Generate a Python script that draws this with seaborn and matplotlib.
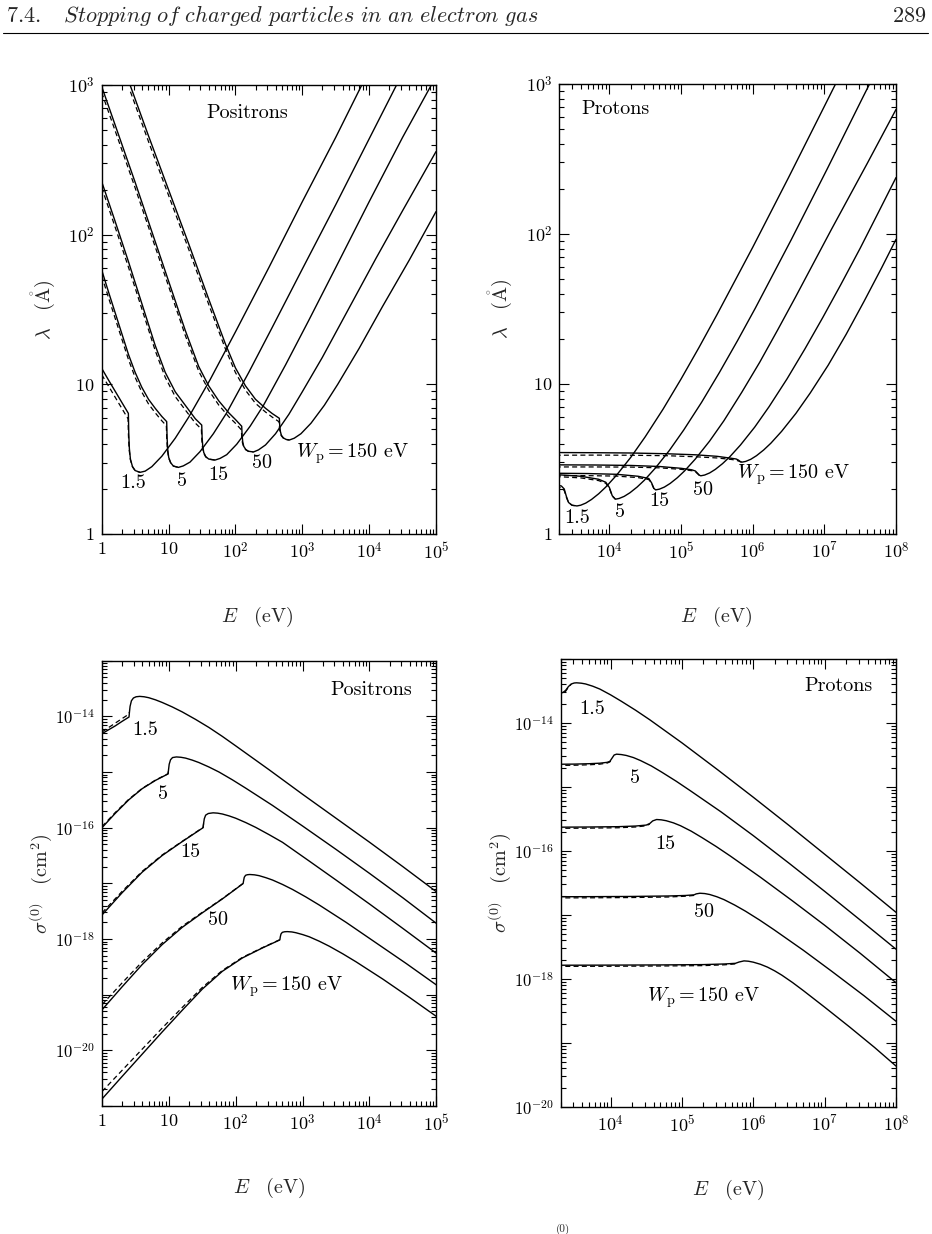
import numpy as np
import matplotlib
matplotlib.use("Agg")
import matplotlib.pyplot as plt
import seaborn as sns
from matplotlib.ticker import FixedLocator, FixedFormatter, LogLocator, NullFormatter
from matplotlib.lines import Line2D

# ---------------- data (stored as log10 values) ----------------
# Panel A: positrons, inelastic mean free path; x = log10(E/eV), y = log10(lambda/Angstrom)
posl_w1p5_x = [0, 0.1, 0.2, 0.3, 0.399, 0.405, 0.414, 0.43, 0.46, 0.5, 0.573, 0.65, 0.75, 0.9, 1.1, 1.3, 1.62, 2.0, 2.5, 3.0, 3.5, 3.89, 3.95]
posl_w1p5_y = [1.107, 1.03, 0.955, 0.88, 0.806, 0.668, 0.57, 0.499, 0.451, 0.424, 0.412, 0.42, 0.45, 0.52, 0.64, 0.78, 1.03, 1.35, 1.78, 2.22, 2.65, 3.0, 3.05]
posl_w1p5_dx = [0, 0.1, 0.2, 0.3, 0.394, 0.4, 0.41, 0.43, 0.46, 0.5, 0.573]
posl_w1p5_dy = [1.065, 0.99, 0.915, 0.84, 0.77, 0.66, 0.565, 0.495, 0.449, 0.423, 0.412]

posl_w5_x = [0, 0.1, 0.2, 0.3, 0.4, 0.5, 0.6, 0.7, 0.8, 0.9, 0.972, 0.978, 0.987, 1.002, 1.032, 1.072, 1.147,
             1.22, 1.32, 1.47, 1.67, 1.87, 2.2, 2.55, 3.0, 3.5, 4.0, 4.41, 4.47]
posl_w5_y = [1.764, 1.62, 1.48, 1.34, 1.2, 1.08, 0.98, 0.9, 0.84, 0.785, 0.751, 0.644, 0.567, 0.512, 0.476, 0.454, 0.445,
             0.455, 0.48, 0.55, 0.67, 0.81, 1.08, 1.38, 1.77, 2.2, 2.64, 3.0, 3.05]
posl_w5_dx = [0, 0.1, 0.2, 0.3, 0.4, 0.5, 0.6, 0.7, 0.8, 0.9, 0.967, 0.973, 0.983, 1.0, 1.032, 1.072, 1.147]
posl_w5_dy = [1.725, 1.582, 1.443, 1.304, 1.166, 1.047, 0.948, 0.869, 0.81, 0.756, 0.724, 0.636, 0.562, 0.509, 0.475, 0.454, 0.445]

posl_w15_x = [0, 0.2, 0.4, 0.6, 0.8, 0.95, 1.1, 1.25, 1.4, 1.496, 1.502, 1.511, 1.526, 1.556, 1.6, 1.695,
              1.77, 1.87, 2.02, 2.22, 2.42, 2.75, 3.1, 3.5, 4.0, 4.5, 4.93, 5.0]
posl_w15_y = [2.354, 2.09, 1.82, 1.54, 1.26, 1.08, 0.95, 0.86, 0.77, 0.728, 0.646, 0.588, 0.545, 0.517, 0.501, 0.494,
              0.505, 0.53, 0.6, 0.72, 0.86, 1.13, 1.43, 1.78, 2.22, 2.65, 3.0, 3.06]
posl_w15_dx = [0, 0.2, 0.4, 0.6, 0.8, 0.95, 1.1, 1.25, 1.4, 1.491, 1.497, 1.507, 1.526, 1.556, 1.6, 1.695]
posl_w15_dy = [2.315, 2.052, 1.783, 1.505, 1.226, 1.047, 0.918, 0.829, 0.741, 0.701, 0.63, 0.578, 0.54, 0.515, 0.5, 0.494]

posl_w50_x = [0, 0.25, 0.5, 0.75, 1.0, 1.25, 1.45, 1.6, 1.75, 1.9, 2.0, 2.094, 2.1, 2.109, 2.124, 2.154, 2.194, 2.27,
              2.345, 2.45, 2.6, 2.8, 3.0, 3.3, 3.7, 4.1, 4.5, 5.0]
posl_w50_y = [2.99, 2.67, 2.35, 2.02, 1.69, 1.36, 1.12, 0.99, 0.89, 0.81, 0.765, 0.72, 0.66, 0.617, 0.586, 0.565, 0.553, 0.548,
              0.562, 0.595, 0.67, 0.8, 0.95, 1.18, 1.51, 1.84, 2.16, 2.555]
posl_w50_dx = [0, 0.25, 0.5, 0.75, 1.0, 1.25, 1.45, 1.6, 1.75, 1.9, 2.0, 2.089, 2.095, 2.105, 2.124, 2.154, 2.194, 2.27]
posl_w50_dy = [2.95, 2.632, 2.313, 1.985, 1.656, 1.327, 1.089, 0.961, 0.862, 0.784, 0.74, 0.696, 0.646, 0.609, 0.582, 0.563, 0.552, 0.548]

posl_w150_x = [0.4, 0.7, 1.0, 1.3, 1.6, 1.85, 2.0, 2.15, 2.3, 2.45, 2.55, 2.657, 2.663, 2.672, 2.687, 2.717, 2.757, 2.807,
               2.88, 2.98, 3.13, 3.33, 3.53, 3.85, 4.2, 4.6, 5.0]
posl_w150_y = [3.03, 2.66, 2.3, 1.94, 1.57, 1.27, 1.11, 0.99, 0.9, 0.84, 0.805, 0.773, 0.722, 0.686, 0.66, 0.642, 0.632, 0.628,
               0.64, 0.67, 0.74, 0.86, 1.0, 1.24, 1.52, 1.83, 2.154]
posl_w150_dx = [0.43, 0.7, 1.0, 1.3, 1.6, 1.85, 2.0, 2.15, 2.3, 2.45, 2.55, 2.652, 2.658, 2.668, 2.687, 2.717, 2.757, 2.807]
posl_w150_dy = [2.955, 2.622, 2.263, 1.904, 1.535, 1.237, 1.079, 0.961, 0.873, 0.815, 0.781, 0.75, 0.71, 0.678, 0.656, 0.64, 0.631, 0.628]

# Panel B: protons, inelastic mean free path
prol_w1p5_x = [3.25, 3.33, 3.37, 3.4, 3.43, 3.48, 3.547, 3.6, 3.67, 3.75, 3.85, 3.95, 4.1, 4.3, 4.5, 4.75, 5.0, 5.25,
               5.5, 6.0, 6.5, 7.0, 7.15, 7.2]
prol_w1p5_y = [0.328, 0.32, 0.3, 0.25, 0.21, 0.192, 0.187, 0.192, 0.206, 0.23, 0.268, 0.313, 0.392, 0.512, 0.648, 0.833,
               1.033, 1.243, 1.461, 1.911, 2.376, 2.851, 2.994, 3.042]
prol_w1p5_dx = [3.25, 3.33, 3.37, 3.4, 3.43, 3.48, 3.547]
prol_w1p5_dy = [0.316, 0.308, 0.29, 0.245, 0.208, 0.191, 0.187]

prol_w5_x = [3.25, 3.6, 3.85, 3.95, 4.0, 4.04, 4.084, 4.137, 4.207, 4.287, 4.387, 4.487, 4.637, 4.837, 5.037, 5.287,
             5.537, 5.787, 6.037, 6.537, 7.037, 7.537, 7.65]
prol_w5_y = [0.396, 0.385, 0.365, 0.345, 0.31, 0.255, 0.232, 0.237, 0.251, 0.275, 0.313, 0.358, 0.437, 0.557, 0.693, 0.878,
             1.078, 1.288, 1.506, 1.961, 2.431, 2.911, 3.018]
prol_w5_dx = [3.25, 3.6, 3.85, 3.95, 4.0, 4.04, 4.084]
prol_w5_dy = [0.383, 0.374, 0.356, 0.338, 0.305, 0.253, 0.232]

prol_w15_x = [3.25, 3.7, 4.1, 4.4, 4.55, 4.59, 4.62, 4.645, 4.698, 4.768, 4.848, 4.948, 5.048, 5.198, 5.398, 5.598,
              5.848, 6.098, 6.348, 6.598, 7.098, 7.598, 8.0]
prol_w15_y = [0.405, 0.403, 0.398, 0.385, 0.37, 0.34, 0.305, 0.294, 0.299, 0.313, 0.337, 0.375, 0.42, 0.499, 0.619, 0.755,
              0.945, 1.145, 1.36, 1.58, 2.03, 2.47, 2.83]
prol_w15_dx = [3.25, 3.7, 4.1, 4.4, 4.55, 4.59, 4.62, 4.645]
prol_w15_dy = [0.39, 0.389, 0.386, 0.376, 0.363, 0.336, 0.303, 0.294]

prol_w50_x = [3.25, 3.8, 4.3, 4.7, 5.0, 5.15, 5.2, 5.23, 5.255, 5.276, 5.329, 5.399, 5.479, 5.579, 5.679, 5.829, 6.029,
              6.229, 6.479, 6.729, 6.979, 7.229, 7.5, 7.75, 8.0]
prol_w50_y = [0.461, 0.46, 0.457, 0.45, 0.438, 0.428, 0.42, 0.405, 0.392, 0.388, 0.393, 0.407, 0.431, 0.469, 0.514, 0.593,
              0.713, 0.849, 1.034, 1.234, 1.444, 1.662, 1.905, 2.14, 2.376]
prol_w50_dx = [3.25, 3.8, 4.3, 4.7, 5.0, 5.15, 5.2, 5.23, 5.255, 5.276]
prol_w50_dy = [0.447, 0.447, 0.446, 0.441, 0.431, 0.422, 0.415, 0.402, 0.391, 0.388]

prol_w150_x = [3.25, 3.8, 4.3, 4.8, 5.2, 5.5, 5.7, 5.77, 5.8, 5.83, 5.85, 5.903, 5.973, 6.053, 6.153, 6.253, 6.403,
               6.603, 6.803, 7.053, 7.303, 7.553, 7.8, 8.0]
prol_w150_y = [0.543, 0.542, 0.54, 0.535, 0.528, 0.518, 0.505, 0.5, 0.493, 0.482, 0.479, 0.484, 0.498, 0.522, 0.56,
               0.605, 0.684, 0.804, 0.94, 1.125, 1.33, 1.55, 1.775, 1.964]
prol_w150_dx = [3.25, 3.8, 4.3, 4.8, 5.2, 5.5, 5.7, 5.77, 5.8, 5.83, 5.85]
prol_w150_dy = [0.525, 0.526, 0.525, 0.522, 0.515, 0.507, 0.497, 0.492, 0.487, 0.481, 0.479]

# Panel C: positrons, total cross section; y = log10(sigma/cm^2)
poss_w1p5_x = [0, 0.1, 0.2, 0.3, 0.404, 0.41, 0.42, 0.44, 0.47, 0.51, 0.564, 0.63, 0.7, 0.8, 0.9, 1.05, 1.2, 1.4, 1.6,
               1.8, 2.0, 2.5, 3.0, 3.5, 4.0, 4.5, 5.0]
poss_w1p5_y = [-14.311, -14.24, -14.17, -14.09, -14.012, -13.93, -13.82, -13.72, -13.67, -13.648, -13.641, -13.648,
               -13.665, -13.703, -13.75, -13.83, -13.92, -14.055, -14.2, -14.36, -14.53, -14.96, -15.4, -15.83, -16.26,
               -16.7, -17.15]
poss_w1p5_dx = [0, 0.1, 0.2, 0.3, 0.39, 0.41]
poss_w1p5_dy = [-14.28, -14.2, -14.12, -14.04, -13.97, -13.93]

poss_w5_x = [0, 0.2, 0.4, 0.6, 0.8, 0.988, 0.995, 1.005, 1.025, 1.055, 1.113, 1.18, 1.25, 1.35, 1.45, 1.6, 1.75, 1.95,
             2.15, 2.55, 3.0, 3.5, 4.0, 4.5, 5.0]
poss_w5_y = [-16.0, -15.74, -15.5, -15.3, -15.15, -15.034, -14.96, -14.86, -14.78, -14.74, -14.729, -14.735, -14.75,
             -14.786, -14.83, -14.91, -15.0, -15.14, -15.29, -15.6, -15.97, -16.39, -16.82, -17.26, -17.718]
poss_w5_dx = [0, 0.2, 0.4, 0.6, 0.8, 0.988, 0.995]
poss_w5_dy = [-15.98, -15.725, -15.49, -15.295, -15.145, -15.03, -14.96]

poss_w15_x = [0, 0.3, 0.6, 0.9, 1.2, 1.512, 1.52, 1.53, 1.55, 1.59, 1.662, 1.73, 1.8, 1.9, 2.0, 2.15, 2.3, 2.5, 2.7,
              3.1, 3.5, 4.0, 4.5, 5.0]
poss_w15_y = [-17.568, -17.17, -16.8, -16.5, -16.25, -16.0, -15.92, -15.84, -15.775, -15.745, -15.733, -15.739, -15.754,
              -15.788, -15.83, -15.908, -15.995, -16.126, -16.263, -16.6, -16.94, -17.37, -17.81, -18.256]
poss_w15_dx = [0, 0.3, 0.6, 0.9, 1.2, 1.512, 1.52]
poss_w15_dy = [-17.53, -17.145, -16.785, -16.49, -16.245, -15.995, -15.92]

poss_w50_x = [0, 0.3, 0.6, 0.9, 1.2, 1.5, 1.8, 2.111, 2.118, 2.128, 2.148, 2.175, 2.21, 2.28, 2.35, 2.45, 2.55, 2.7,
              2.85, 3.05, 3.25, 3.65, 4.1, 4.55, 5.0]
poss_w50_y = [-19.272, -18.86, -18.46, -18.1, -17.79, -17.53, -17.28, -17.003, -16.95, -16.89, -16.855, -16.845, -16.841,
              -16.847, -16.862, -16.898, -16.94, -17.02, -17.11, -17.245, -17.39, -17.7, -18.07, -18.44, -18.824]
poss_w50_dx = [0, 0.3, 0.6, 0.9, 1.2, 1.5, 1.8, 2.111, 2.118]
poss_w50_dy = [-19.18, -18.79, -18.41, -18.07, -17.77, -17.52, -17.275, -17.0, -16.95]

poss_w150_x = [0, 0.3, 0.6, 0.9, 1.2, 1.5, 1.8, 2.1, 2.4, 2.66, 2.667, 2.677, 2.697, 2.73, 2.77, 2.84, 2.9, 3.0, 3.1,
               3.25, 3.4, 3.6, 3.8, 4.2, 4.6, 5.0]
poss_w150_y = [-20.874, -20.47, -20.07, -19.67, -19.28, -18.9, -18.58, -18.34, -18.16, -18.016, -17.96, -17.91, -17.88,
               -17.87, -17.867, -17.873, -17.887, -17.92, -17.96, -18.04, -18.13, -18.265, -18.41, -18.72, -19.05, -19.39]
poss_w150_dx = [0, 0.3, 0.6, 0.9, 1.2, 1.5, 1.8, 2.1, 2.4, 2.66, 2.667]
poss_w150_dy = [-20.74, -20.36, -19.98, -19.6, -19.23, -18.87, -18.565, -18.33, -18.155, -18.012, -17.96]

# Panel D: protons, total cross section
pros_w1p5_x = [3.25, 3.33, 3.37, 3.41, 3.45, 3.49, 3.523, 3.59, 3.65, 3.75, 3.85, 4.0, 4.15, 4.35, 4.55, 4.75, 5.0,
               5.5, 6.0, 6.5, 7.0, 7.5, 8.0]
pros_w1p5_y = [-13.52, -13.525, -13.49, -13.43, -13.39, -13.375, -13.372, -13.378, -13.39, -13.425, -13.47, -13.56,
               -13.66, -13.8, -13.95, -14.11, -14.31, -14.73, -15.16, -15.6, -16.05, -16.5, -16.958]
pros_w1p5_dx = [3.25, 3.33, 3.37, 3.41, 3.45]
pros_w1p5_dy = [-13.538, -13.54, -13.505, -13.44, -13.392]

pros_w5_x = [3.25, 3.5, 3.7, 3.85, 3.95, 3.99, 4.02, 4.05, 4.084, 4.15, 4.22, 4.32, 4.42, 4.57, 4.72, 4.92, 5.12, 5.55,
             6.0, 6.5, 7.0, 7.5, 8.0]
pros_w5_y = [-14.645, -14.642, -14.636, -14.628, -14.615, -14.6, -14.55, -14.5, -14.487, -14.493, -14.507, -14.54,
             -14.587, -14.67, -14.77, -14.91, -15.06, -15.39, -15.76, -16.19, -16.63, -17.08, -17.534]
pros_w5_dx = [3.25, 3.5, 3.7, 3.85, 3.95, 3.99, 4.02]
pros_w5_dy = [-14.663, -14.66, -14.653, -14.643, -14.627, -14.608, -14.555]

pros_w15_x = [3.25, 3.7, 4.1, 4.35, 4.5, 4.55, 4.59, 4.645, 4.71, 4.78, 4.88, 4.98, 5.13, 5.28, 5.48, 5.68, 6.1, 6.55,
              7.0, 7.5, 8.0]
pros_w15_y = [-15.628, -15.625, -15.62, -15.61, -15.595, -15.57, -15.53, -15.508, -15.513, -15.527, -15.56, -15.605,
              -15.69, -15.79, -15.93, -16.08, -16.41, -16.78, -17.16, -17.6, -18.058]
pros_w15_dx = [3.25, 3.7, 4.1, 4.35, 4.5, 4.55]
pros_w15_dy = [-15.646, -15.643, -15.637, -15.625, -15.606, -15.578]

pros_w50_x = [3.25, 3.8, 4.3, 4.8, 5.05, 5.17, 5.2, 5.252, 5.32, 5.39, 5.49, 5.59, 5.74, 5.89, 6.09, 6.29, 6.7, 7.1,
              7.55, 8.0]
pros_w50_y = [-16.715, -16.713, -16.71, -16.703, -16.695, -16.685, -16.67, -16.66, -16.665, -16.68, -16.715, -16.76,
              -16.845, -16.94, -17.08, -17.23, -17.55, -17.88, -18.26, -18.66]
pros_w50_dx = [3.25, 3.8, 4.3, 4.8, 5.05, 5.17]
pros_w50_dy = [-16.733, -16.731, -16.727, -16.719, -16.707, -16.694]

pros_w150_x = [3.25, 4.0, 4.7, 5.3, 5.6, 5.75, 5.8, 5.87, 5.93, 6.0, 6.1, 6.2, 6.3, 6.4, 6.55, 6.7, 7.0, 7.35, 7.7, 8.0]
pros_w150_y = [-17.785, -17.783, -17.78, -17.775, -17.765, -17.755, -17.735, -17.717, -17.722, -17.737, -17.77, -17.815,
               -17.873, -17.94, -18.055, -18.18, -18.44, -18.75, -19.07, -19.36]
pros_w150_dx = [3.25, 4.0, 4.7, 5.3, 5.6, 5.75]
pros_w150_dy = [-17.803, -17.801, -17.797, -17.791, -17.778, -17.764]

curve_labels = ["1.5", "5", "15", "50"]
wp_label = r"$W_\mathrm{p} = 150$ eV"

# ---------------- style ----------------
sns.set_style("ticks")
plt.rcParams["font.family"] = ["cmr10", "DejaVu Serif"]
plt.rcParams["mathtext.fontset"] = "cm"
plt.rcParams["axes.formatter.use_mathtext"] = True
plt.rcParams["axes.unicode_minus"] = False

fig = plt.figure(figsize=(9.32, 12.34), dpi=100)
W, H = 932.0, 1234.0


def axes_px(l, r, t, b):
    return fig.add_axes([l / W, 1 - b / H, (r - l) / W, (b - t) / H])


axA = axes_px(101.7, 436.0, 85.0, 534.0)
axB = axes_px(559.3, 896.0, 84.0, 534.0)
axC = axes_px(102.0, 436.3, 660.7, 1106.0)
axD = axes_px(560.7, 896.0, 659.0, 1107.0)


def draw(ax, lx, ly, dashed=False):
    x = 10.0 ** np.array(lx)
    y = 10.0 ** np.array(ly)
    if dashed:
        sns.lineplot(x=x, y=y, ax=ax, color="black", linewidth=0.9, sort=False,
                     estimator=None, linestyle=(0, (4.0, 2.6)))
    else:
        sns.lineplot(x=x, y=y, ax=ax, color="black", linewidth=1.0, sort=False, estimator=None)


panels = {
    axA: [(posl_w1p5_x, posl_w1p5_y, posl_w1p5_dx, posl_w1p5_dy),
          (posl_w5_x, posl_w5_y, posl_w5_dx, posl_w5_dy),
          (posl_w15_x, posl_w15_y, posl_w15_dx, posl_w15_dy),
          (posl_w50_x, posl_w50_y, posl_w50_dx, posl_w50_dy),
          (posl_w150_x, posl_w150_y, posl_w150_dx, posl_w150_dy)],
    axB: [(prol_w1p5_x, prol_w1p5_y, prol_w1p5_dx, prol_w1p5_dy),
          (prol_w5_x, prol_w5_y, prol_w5_dx, prol_w5_dy),
          (prol_w15_x, prol_w15_y, prol_w15_dx, prol_w15_dy),
          (prol_w50_x, prol_w50_y, prol_w50_dx, prol_w50_dy),
          (prol_w150_x, prol_w150_y, prol_w150_dx, prol_w150_dy)],
    axC: [(poss_w1p5_x, poss_w1p5_y, poss_w1p5_dx, poss_w1p5_dy),
          (poss_w5_x, poss_w5_y, poss_w5_dx, poss_w5_dy),
          (poss_w15_x, poss_w15_y, poss_w15_dx, poss_w15_dy),
          (poss_w50_x, poss_w50_y, poss_w50_dx, poss_w50_dy),
          (poss_w150_x, poss_w150_y, poss_w150_dx, poss_w150_dy)],
    axD: [(pros_w1p5_x, pros_w1p5_y, pros_w1p5_dx, pros_w1p5_dy),
          (pros_w5_x, pros_w5_y, pros_w5_dx, pros_w5_dy),
          (pros_w15_x, pros_w15_y, pros_w15_dx, pros_w15_dy),
          (pros_w50_x, pros_w50_y, pros_w50_dx, pros_w50_dy),
          (pros_w150_x, pros_w150_y, pros_w150_dx, pros_w150_dy)],
}

for ax, curves in panels.items():
    for sx, sy, dx, dy in curves:
        draw(ax, dx, dy, dashed=True)
        draw(ax, sx, sy)
    ax.set_xscale("log")
    ax.set_yscale("log")

axA.set_xlim(1, 1e5)
axA.set_ylim(1, 1e3)
axB.set_xlim(2e3, 1e8)
axB.set_ylim(1, 1e3)
axC.set_xlim(1, 1e5)
axC.set_ylim(1e-21, 1e-13)
axD.set_xlim(2e3, 1e8)
axD.set_ylim(1e-20, 1e-13)


def set_ticks(ax, xt, xl, yt, yl, ysize=13):
    ax.xaxis.set_major_locator(FixedLocator(xt))
    ax.xaxis.set_major_formatter(FixedFormatter(xl))
    ax.yaxis.set_major_locator(FixedLocator(yt))
    ax.yaxis.set_major_formatter(FixedFormatter(yl))
    ax.xaxis.set_minor_locator(LogLocator(base=10, subs=np.arange(2, 10), numticks=40))
    ax.yaxis.set_minor_locator(LogLocator(base=10, subs=np.arange(2, 10), numticks=40))
    ax.xaxis.set_minor_formatter(NullFormatter())
    ax.yaxis.set_minor_formatter(NullFormatter())
    ax.tick_params(which="both", direction="in", top=True, right=True, width=0.8, colors="black")
    ax.tick_params(which="major", length=7.5, pad=5)
    ax.tick_params(axis="x", which="major", labelsize=13)
    ax.tick_params(axis="y", which="major", labelsize=ysize)
    ax.tick_params(which="minor", length=3.8)
    for s in ax.spines.values():
        s.set_linewidth(1.0)
        s.set_color("black")


lamt = [1, 10, 100, 1000]
laml = ["$1$", "$10$", "$10^{2}$", "$10^{3}$"]
set_ticks(axA, [1, 10, 1e2, 1e3, 1e4, 1e5],
          ["$1$", "$10$", "$10^{2}$", "$10^{3}$", "$10^{4}$", "$10^{5}$"], lamt, laml)
set_ticks(axB, [1e4, 1e5, 1e6, 1e7, 1e8],
          ["$10^{4}$", "$10^{5}$", "$10^{6}$", "$10^{7}$", "$10^{8}$"], lamt, laml)
sigC = [10.0 ** k for k in range(-21, -12)]
sigCl = ["$10^{%d}$" % k if k % 2 == 0 else "" for k in range(-21, -12)]
set_ticks(axC, [1, 10, 1e2, 1e3, 1e4, 1e5],
          ["$1$", "$10$", "$10^{2}$", "$10^{3}$", "$10^{4}$", "$10^{5}$"], sigC, sigCl, ysize=12)
sigD = [10.0 ** k for k in range(-20, -12)]
sigDl = ["$10^{%d}$" % k if k % 2 == 0 else "" for k in range(-20, -12)]
set_ticks(axD, [1e4, 1e5, 1e6, 1e7, 1e8],
          ["$10^{4}$", "$10^{5}$", "$10^{6}$", "$10^{7}$", "$10^{8}$"], sigD, sigDl, ysize=12)

# axis labels
xlab = r"$E\quad(\mathrm{eV})$"
for ax, xf in [(axA, 0.464), (axB, 0.467), (axC, 0.5), (axD, 0.5)]:
    ax.set_xlabel(xlab, fontsize=14.5)
    ax.xaxis.set_label_coords(xf, -0.185)
    ax.xaxis.label.set_va("center")
for ax in (axA, axB):
    ax.set_ylabel(r"$\lambda\quad(\mathring{\mathrm{A}})$", fontsize=14.5)
    ax.yaxis.set_label_coords(-0.172, 0.5)
for ax in (axC, axD):
    ax.set_ylabel(r"$\sigma^{(0)}\quad(\mathrm{cm}^{2})$", fontsize=14.5)
    ax.yaxis.set_label_coords(-0.18, 0.5)
for ax in (axA, axB, axC, axD):
    ax.yaxis.label.set_va("center")
    ax.set_facecolor("white")

# annotations
tk = dict(fontsize=14.5, ha="center", va="center", color="black")
axA.text(10 ** 2.17, 10 ** 2.81, "Positrons", **tk)
for lab, px, py in zip(curve_labels, [0.474, 1.196, 1.745, 2.393], [0.339, 0.356, 0.394, 0.472]):
    axA.text(10 ** px, 10 ** py, lab, **tk)
axA.text(10 ** 3.76, 10 ** 0.539, wp_label, **tk)

axB.text(10 ** 4.08, 10 ** 2.83, "Protons", **tk)
for lab, px, py in zip(curve_labels, [3.547, 4.154, 4.692, 5.3], [0.105, 0.149, 0.223, 0.294]):
    axB.text(10 ** px, 10 ** py, lab, **tk)
axB.text(10 ** 6.57, 10 ** 0.394, wp_label, **tk)

axC.text(10 ** 4.03, 10 ** -13.52, "Positrons", **tk)
for lab, px, py in zip(curve_labels, [0.639, 0.913, 1.322, 1.737], [-14.251, -15.387, -16.433, -17.658]):
    axC.text(10 ** px, 10 ** py, lab, **tk)
axC.text(10 ** 2.76, 10 ** -18.854, wp_label, **tk)

axD.text(10 ** 7.19, 10 ** -13.42, "Protons", **tk)
for lab, px, py in zip(curve_labels, [3.748, 4.341, 4.762, 5.308], [-13.78, -14.864, -15.885, -16.958]):
    axD.text(10 ** px, 10 ** py, lab, **tk)
axD.text(10 ** 5.3, 10 ** -18.293, wp_label, **tk)

# running head
fig.text(6 / W, 1 - 16 / H, r"$\mathit{7.4.\quad Stopping\ of\ charged\ particles\ in\ an\ electron\ gas}$",
         fontsize=16, ha="left", va="center")
fig.text(926 / W, 1 - 16 / H, r"$\mathit{289}$", fontsize=16, ha="right", va="center")
fig.add_artist(Line2D([3 / W, 928 / W], [1 - 33 / H, 1 - 33 / H], color="black", linewidth=0.8))
fig.text(563 / W, 1 - 1229 / H, "(0)", fontsize=8, ha="center", va="center")

fig.savefig("out.png", dpi=100, facecolor="white")
